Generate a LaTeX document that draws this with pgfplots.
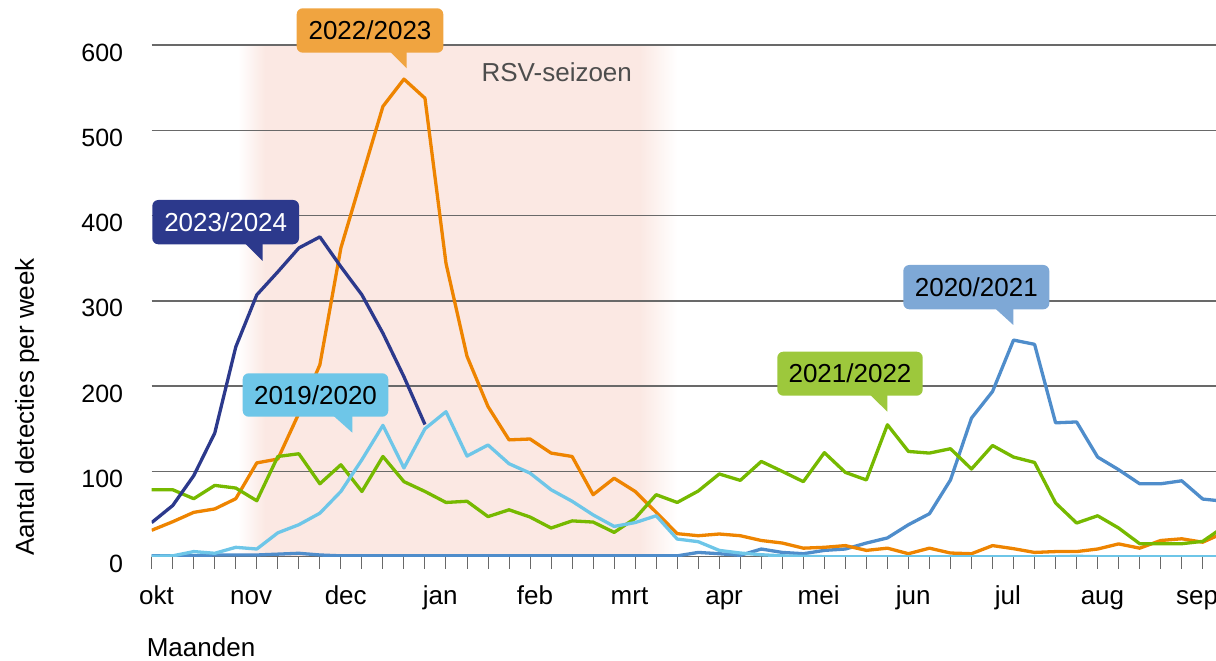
\documentclass[border=0pt]{standalone}
\usepackage{fontspec}
\setmainfont{Liberation Sans}
\usepackage{pgfplots}
\usepackage{pgfplotstable}
\pgfplotsset{compat=1.18}

\definecolor{gridgray}{RGB}{105,105,105}
\definecolor{rsvpink}{RGB}{251,232,227}
\definecolor{cNavy}{RGB}{44,57,140}
\definecolor{cOrange}{RGB}{238,132,0}
\definecolor{cOrangeBox}{RGB}{240,164,64}
\definecolor{cLight}{RGB}{110,198,232}
\definecolor{cGreen}{RGB}{118,185,0}
\definecolor{cGreenBox}{RGB}{157,200,60}
\definecolor{cBlue}{RGB}{79,141,203}
\definecolor{cBlueBox}{RGB}{126,168,214}
\definecolor{rsvtext}{RGB}{77,77,77}

% week  value
\pgfplotstableread{
w v
0 0.4
1 1
2 6
3 4
4 11
5 9
6 28
7 37.5
8 51
9 76.5
10 113.7
11 154
12 104
13 150
14 170
15 118
16 131
17 109
18 98
19 78.5
20 65
21 49
22 35.5
23 40
24 48
25 20.7
26 17.6
27 7.4
28 4.3
29 2.3
30 1
31 0.5
32 0
33 0
34 0
35 0
36 0
37 0
38 0
39 0
40 0
41 0
42 0
43 0
44 0.5
45 0
46 0
47 0
48 0
49 0
50 0
51 0
}\sLightBlue

\pgfplotstableread{
w v
0 1
1 1
2 1
3 2
4 2
5 2
6 3
7 4
8 2
9 1
10 1
11 1
12 1
13 1
14 1
15 1
16 1
17 1
18 1
19 1
20 1
21 1
22 1
23 1
24 1
25 1
26 5
27 3.5
28 1.6
29 9
30 5
31 3.5
32 7.4
33 9
34 16
35 22
36 37.5
37 50.4
38 90
39 162.5
40 193.7
41 254
42 249
43 157
44 158
45 116.8
46 102
47 85.5
48 85.5
49 89
50 67.6
51 65
}\sBlue

\pgfplotstableread{
w v
0 78.5
1 78.5
2 68
3 83.6
4 80.5
5 65.6
6 117.5
7 120.7
8 85.5
9 107.8
10 76.5
11 117.5
12 88
13 76.5
14 63.6
15 65
16 47
17 55
18 46.5
19 33.6
20 42
21 40.6
22 28.5
23 45
24 72.7
25 63.6
26 77
27 97
28 89.5
29 111.7
30 100
31 88
32 122
33 98.8
34 90
35 154.7
36 123.4
37 121.5
38 126.6
39 102.8
40 130.4
41 116.8
42 110.5
43 63
44 39.5
45 48
46 33.6
47 15.2
48 15.2
49 15.2
50 18
51 35
}\sGreen

\pgfplotstableread{
w v
0 31
1 41
2 52
3 56
4 68
5 110
6 114.5
7 168
8 225
9 362
10 445
11 528
12 560
13 537.6
14 344
15 235
16 176
17 137
18 138
19 121.5
20 117.5
21 72.7
22 92
23 76.5
24 52
25 27
26 24.6
27 26.6
28 24.6
29 19
30 16
31 10
32 11
33 13
34 7.4
35 10
36 3.5
37 10
38 4.3
39 3.5
40 13
41 9.4
42 5
43 6
44 6
45 9
46 15
47 10
48 19
49 21
50 17
51 28
}\sOrange

\pgfplotstableread{
w v
0 40
1 60
2 95
3 145
4 246
5 307
6 334
7 362
8 375
9 340
10 307
11 262
12 211
13 155
}\sNavy

\newcommand\fnt{\fontsize{26}{31}\selectfont}

\begin{document}
\begin{tikzpicture}[x=1pt,y=1pt]
\begin{axis}[
  set layers,
  at={(151.7pt,104.3pt)}, anchor=south west,
  scale only axis, width=1064.3pt, height=511.7pt,
  xmin=0, xmax=50.63, ymin=0, ymax=600,
  axis x line*=bottom, axis y line*=left,
  x axis line style={draw=gridgray, line width=1.4pt},
  y axis line style={draw=none},
  xtick={0.23,4.73,9.23,13.73,18.23,22.73,27.23,31.73,36.23,40.73,45.23,49.73},
  xticklabels={okt,nov,dec,jan,feb,mrt,apr,mei,jun,jul,aug,sep},
  major tick length=0pt,
  xtick style={draw=none},
  ytick style={draw=none},
  ytick={0,100,...,600},
  ymajorgrids, xmajorgrids=false,
  major grid style={draw=gridgray, line width=1.4pt},
  /pgf/number format/assume math mode=true,
  yticklabel style={font=\fontsize{25}{30}\selectfont, anchor=east, inner sep=0pt, xshift=-28.4pt, yshift=-7.5pt},
  xticklabel style={font=\fnt, anchor=base, inner sep=0pt, yshift=-48.3pt},
  ylabel={Aantal detecties per week},
  ylabel style={font=\fnt, at={(axis description cs:-0.1106,0.2926)}, anchor=base},
  xlabel={Maanden},
  xlabel style={font=\fnt, at={(axis description cs:-0.0079,-0.1954)}, anchor=base west},
  no marks,
  every axis plot/.append style={line width=3.3pt, line join=round},
]
\begin{pgfonlayer}{axis background}
  \fill[left color=white, right color=rsvpink] (axis cs:4.1,0) rectangle (axis cs:5.4,600);
  \fill[rsvpink] (axis cs:5.38,0) rectangle (axis cs:23.22,600);
  \fill[left color=rsvpink, right color=white] (axis cs:23.2,0) rectangle (axis cs:25.0,600);
\end{pgfonlayer}
\node[font=\fnt, text=rsvtext, anchor=base] at (axis cs:19.27,557) {RSV-seizoen};
\addplot[color=cBlue] table[x=w,y=v] {\sBlue};
\addplot[color=cOrange] table[x=w,y=v] {\sOrange};
\addplot[color=cGreen] table[x=w,y=v] {\sGreen};
\addplot[color=cNavy] table[x=w,y=v] {\sNavy};
\addplot[color=cLight] table[x=w,y=v] {\sLightBlue};
\end{axis}

% weekly tick marks below the axis (one per week, 21.021pt apart)
\foreach \k in {0,...,50} {
  \draw[gridgray, line width=1pt] ({151.7+21.021*\k},104.3) -- ++(0,-12.6);
}

% call-outs
\fill[cOrangeBox, rounded corners=6pt] (296.7,608.3) rectangle (443.3,652.7);
\fill[cOrangeBox] (390,609.3) -- (406.7,609.3) -- (406.7,592.7) -- cycle;
\node[font=\fnt, text=black] at (370,630.5) {2022/2023};

\fill[cNavy, rounded corners=6pt] (152.3,416.7) rectangle (299,461);
\fill[cNavy] (245,417.7) -- (262.7,417.7) -- (262.7,400) -- cycle;
\node[font=\fnt, text=white] at (225.7,438.8) {2023/2024};

\fill[cLight, rounded corners=6pt] (242.7,244.3) rectangle (388.3,287.7);
\fill[cLight] (333.3,245.3) -- (352.3,245.3) -- (352.3,228.3) -- cycle;
\node[font=\fnt, text=black] at (315.5,266) {2019/2020};

\fill[cGreenBox, rounded corners=6pt] (777.3,265.3) rectangle (922.7,309.3);
\fill[cGreenBox] (870,266.3) -- (887.3,266.3) -- (887.3,249.3) -- cycle;
\node[font=\fnt, text=black] at (850,287.3) {2021/2022};

\fill[cBlueBox, rounded corners=6pt] (903.3,351.7) rectangle (1049.3,396);
\fill[cBlueBox] (995,352.7) -- (1013.3,352.7) -- (1013.3,336) -- cycle;
\node[font=\fnt, text=black] at (976.3,373.8) {2020/2021};

\pgfresetboundingbox
\useasboundingbox (0,0) rectangle (1216,661);
\end{tikzpicture}
\end{document}
